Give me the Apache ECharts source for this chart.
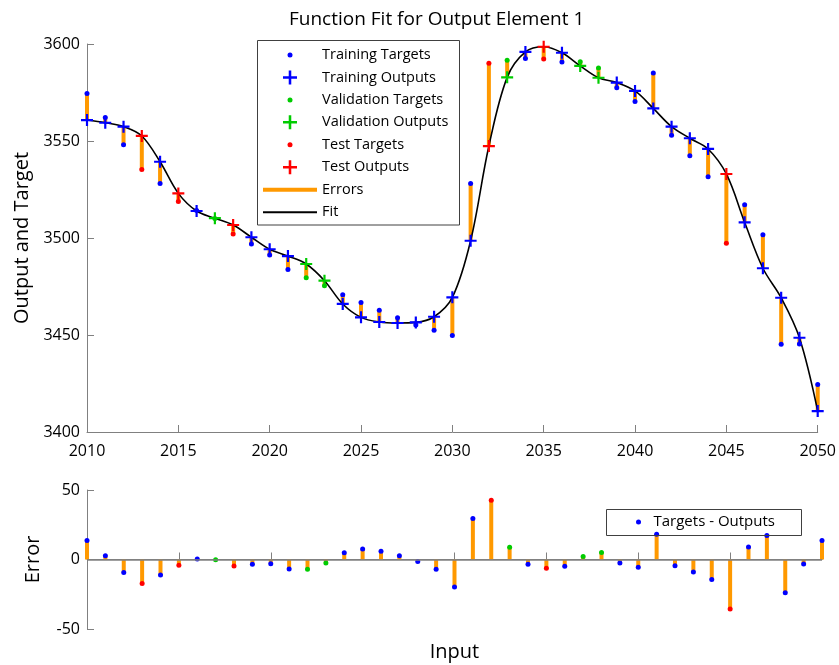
<!DOCTYPE html>
<html>
<head>
<meta charset="utf-8">
<title>Function Fit for Output Element 1</title>
<script src="https://cdn.jsdelivr.net/npm/echarts@6/dist/echarts.min.js"></script>
<style>
  html, body { margin: 0; padding: 0; background: #fff; }
  #chart { width: 839px; height: 665px; }
</style>
</head>
<body>
<div id="chart"></div>
<script>
// Inputs (years) for each sample
const inputs = [2010, 2011, 2012, 2013, 2014, 2015, 2016, 2017, 2018, 2019,
                2020, 2021, 2022, 2023, 2024, 2025, 2026, 2027, 2028, 2029,
                2030, 2031, 2032, 2033, 2034, 2035, 2036, 2037, 2038, 2039,
                2040, 2041, 2042, 2043, 2044, 2045, 2046, 2047, 2048, 2049, 2050];

// Target values
const targets = [3574.5, 3562.1, 3548.1, 3535.3, 3528.1, 3518.8, 3514.2, 3510.0, 3502.1, 3496.9,
                 3491.2, 3483.8, 3479.5, 3475.4, 3470.8, 3466.7, 3462.7, 3458.9, 3455.1, 3452.4,
                 3449.7, 3528.1, 3590.1, 3591.6, 3592.5, 3592.3, 3590.7, 3590.8, 3587.6, 3577.5,
                 3570.3, 3585.0, 3552.9, 3542.4, 3531.6, 3497.3, 3517.1, 3501.7, 3445.2, 3445.3, 3424.5];

// Network outputs
const outputs = [3560.8, 3559.4, 3557.4, 3552.6, 3539.3, 3523.0, 3513.9, 3510.2, 3506.7, 3500.4,
                 3494.2, 3490.7, 3486.6, 3478.0, 3466.0, 3459.1, 3456.7, 3456.2, 3456.5, 3459.4,
                 3469.4, 3498.6, 3547.4, 3582.8, 3595.9, 3598.6, 3595.5, 3588.7, 3582.6, 3580.1,
                 3575.8, 3566.8, 3557.4, 3551.4, 3545.9, 3533.0, 3508.1, 3484.4, 3469.2, 3448.6, 3410.8];

// Data division: T = training, V = validation, S = test
const subsets = ['T','T','T','S','T','S','T','V','S','T',
                 'T','T','V','V','T','T','T','T','T','T',
                 'T','T','S','V','T','S','T','V','V','T',
                 'T','T','T','T','T','S','T','T','T','T','T'];

// Axis ticks
const fitTicks = [3400, 3450, 3500, 3550, 3600];
const errTicks = [-50, 0, 50];
const inputTicks = [2010, 2015, 2020, 2025, 2030, 2035, 2040, 2045, 2050];

const BLUE = '#0000ff', GREEN = '#00cc00', RED = '#ff0000';
const ORANGE = '#ff9900', AXIS = '#808080';
const FONT = 'Open Sans';
const subsetColor = { T: BLUE, V: GREEN, S: RED };
const PLUS = 'path://M0,9H9V0H13V9H22V13H13V22H9V13H0Z';

const errors = targets.map((t, i) => +(t - outputs[i]).toFixed(2));

function pick(arr, code) {
  const out = [];
  inputs.forEach((x, i) => { if (subsets[i] === code) out.push([x, arr[i]]); });
  return out;
}

const plain = v => String(v);

function axisCommon(gridIndex, labels) {
  return {
    gridIndex,
    type: 'value',
    axisLine: { show: true, lineStyle: { color: AXIS, width: 1 } },
    axisTick: { show: true, inside: true, length: 7, lineStyle: { color: AXIS } },
    splitLine: { show: false },
    axisLabel: { show: labels, color: '#000', fontFamily: FONT, fontSize: 16, formatter: plain }
  };
}

function markerSeries(name, symbol, size, color, data, z) {
  return { name, type: 'scatter', xAxisIndex: 0, yAxisIndex: 0,
           symbol, symbolSize: size, itemStyle: { color, opacity: 1 }, data, z };
}

const chart = echarts.init(document.getElementById('chart'), null, { renderer: 'canvas' });

// Legend rows: icon centre sits at x = 290, labels start at x = 322
const ICON_CX = 290;
const legendRows = [
  { name: 'Training Targets', icon: 'circle', w: 5, h: 5 },
  { name: 'Training Outputs', icon: PLUS, w: 14, h: 14 },
  { name: 'Validation Targets', icon: 'circle', w: 5, h: 5 },
  { name: 'Validation Outputs', icon: PLUS, w: 14, h: 14 },
  { name: 'Test Targets', icon: 'circle', w: 5, h: 5 },
  { name: 'Test Outputs', icon: PLUS, w: 14, h: 14 },
  { name: 'Errors', icon: 'rect', w: 54, h: 4 },
  { name: 'Fit', icon: 'rect', w: 54, h: 2 }
];
const legends = legendRows.map((r, k) => ({
  data: [{ name: r.name, icon: r.icon }],
  left: ICON_CX - r.w / 2,
  top: 55 + k * 22.45 - 10,
  itemWidth: 54,
  itemHeight: r.h,
  padding: 0,
  selectedMode: false,
  textStyle: { color: '#000', fontFamily: FONT, fontSize: 14.5, lineHeight: 20 }
}));
legends.push({
  data: [{ name: 'Targets - Outputs', icon: 'circle' }],
  left: 636,
  top: 512,
  itemWidth: 20,
  itemHeight: 5,
  padding: 0,
  selectedMode: false,
  textStyle: { color: '#000', fontFamily: FONT, fontSize: 15, lineHeight: 20 }
});

const option = {
  backgroundColor: '#fff',
  animation: false,
  title: {
    text: 'Function Fit for Output Element 1',
    left: 284,
    top: 5,
    textStyle: { color: '#000', fontFamily: FONT, fontSize: 19, fontWeight: 'normal' }
  },
  legend: legends,
  graphic: [
    { type: 'rect', z: 100, silent: true,
      shape: { x: 257.5, y: 40.5, width: 202, height: 184.5 },
      style: { fill: 'none', stroke: '#404040', lineWidth: 1 } },
    { type: 'rect', z: 100, silent: true,
      shape: { x: 606.5, y: 509.5, width: 195, height: 26 },
      style: { fill: 'none', stroke: '#404040', lineWidth: 1 } }
  ],
  grid: [
    { left: 87, right: 17, top: 44, height: 388 },
    { left: 87, right: 17, top: 490, height: 139 }
  ],
  xAxis: [
    Object.assign(axisCommon(0, true), {
      min: inputTicks[0], max: inputTicks[inputTicks.length - 1], interval: 5,
      axisLabel: { color: '#000', fontFamily: FONT, fontSize: 16, margin: 11, formatter: plain }
    }),
    Object.assign(axisCommon(1, false), {
      min: inputTicks[0], max: inputTicks[inputTicks.length - 1], interval: 5,
      name: 'Input', nameLocation: 'middle', nameGap: 13,
      nameTextStyle: { color: '#000', fontFamily: FONT, fontSize: 20, verticalAlign: 'top' }
    })
  ],
  yAxis: [
    Object.assign(axisCommon(0, true), {
      min: fitTicks[0], max: fitTicks[fitTicks.length - 1], interval: 50,
      name: 'Output and Target', nameLocation: 'middle', nameGap: 47,
      nameTextStyle: { color: '#000', fontFamily: FONT, fontSize: 20 },
      axisLabel: { color: '#000', fontFamily: FONT, fontSize: 16, margin: 7, formatter: plain }
    }),
    Object.assign(axisCommon(1, true), {
      min: errTicks[0], max: errTicks[errTicks.length - 1], interval: 50,
      name: 'Error', nameLocation: 'middle', nameGap: 44,
      nameTextStyle: { color: '#000', fontFamily: FONT, fontSize: 20 },
      axisLabel: { color: '#000', fontFamily: FONT, fontSize: 16, margin: 7, formatter: plain }
    })
  ],
  series: [
    {
      name: 'Errors',
      type: 'custom',
      xAxisIndex: 0, yAxisIndex: 0,
      itemStyle: { color: ORANGE },
      encode: { x: 0, y: [1, 2] },
      data: inputs.map((x, i) => [x, targets[i], outputs[i]]),
      renderItem: (params, api) => {
        const a = api.coord([api.value(0), api.value(1)]);
        const b = api.coord([api.value(0), api.value(2)]);
        return { type: 'line', shape: { x1: a[0], y1: a[1], x2: b[0], y2: b[1] },
                 style: { stroke: ORANGE, lineWidth: 4 } };
      },
      z: 1
    },
    {
      name: 'Fit',
      type: 'line',
      xAxisIndex: 0, yAxisIndex: 0,
      smooth: 0.35,
      symbol: 'none',
      itemStyle: { color: '#000' },
      lineStyle: { color: '#000', width: 1.6 },
      data: inputs.map((x, i) => [x, outputs[i]]),
      z: 2
    },
    markerSeries('Training Targets', 'circle', 5, BLUE, pick(targets, 'T'), 3),
    markerSeries('Validation Targets', 'circle', 5, GREEN, pick(targets, 'V'), 3),
    markerSeries('Test Targets', 'circle', 5, RED, pick(targets, 'S'), 3),
    markerSeries('Training Outputs', PLUS, 12, BLUE, pick(outputs, 'T'), 4),
    markerSeries('Validation Outputs', PLUS, 12, GREEN, pick(outputs, 'V'), 4),
    markerSeries('Test Outputs', PLUS, 12, RED, pick(outputs, 'S'), 4),
    {
      name: 'Error stems',
      type: 'bar',
      xAxisIndex: 1, yAxisIndex: 1,
      barWidth: 4,
      itemStyle: { color: ORANGE },
      data: inputs.map((x, i) => [x, errors[i]]),
      markLine: {
        silent: true, symbol: 'none', label: { show: false },
        lineStyle: { color: AXIS, width: 1.5, type: 'solid' },
        data: [{ yAxis: 0 }]
      },
      z: 2
    },
    {
      name: 'Targets - Outputs',
      type: 'scatter',
      xAxisIndex: 1, yAxisIndex: 1,
      symbol: 'circle', symbolSize: 5,
      itemStyle: { color: BLUE, opacity: 1 },
      data: inputs.map((x, i) => ({ value: [x, errors[i]], itemStyle: { color: subsetColor[subsets[i]] } })),
      z: 4
    }
  ]
};

chart.setOption(option);
</script>
</body>
</html>
